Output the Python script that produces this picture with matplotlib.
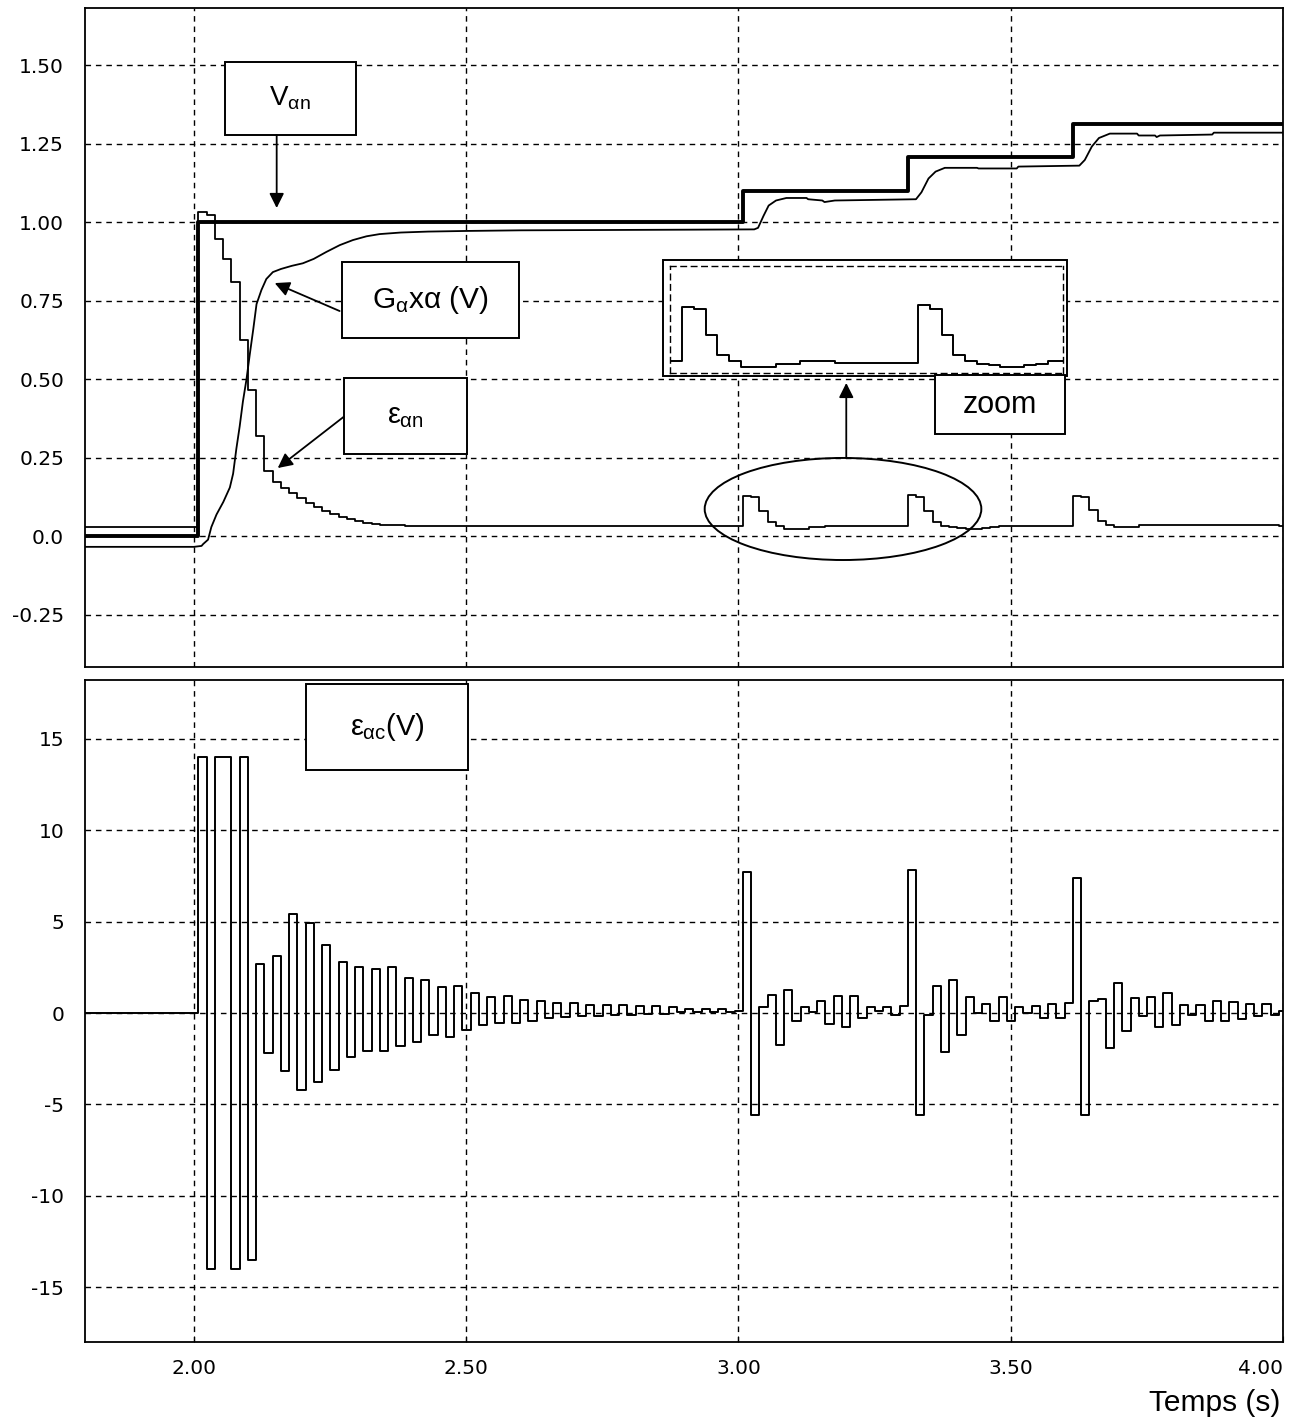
import numpy as np
import matplotlib
matplotlib.use('Agg')
import matplotlib.pyplot as plt
from matplotlib.patches import Rectangle, Ellipse

plt.rcParams['mathtext.fontset'] = 'custom'
plt.rcParams['mathtext.rm'] = 'Liberation Sans'
plt.rcParams['mathtext.it'] = 'Liberation Sans'
plt.rcParams['mathtext.bf'] = 'Liberation Sans:bold'
plt.rcParams['font.family'] = ['Liberation Sans', 'DejaVu Sans']

# ---------------- data ----------------
x_start, x_end = 1.8, 4.0
t_first_sample = 2.008
sample_period = 0.01515

# reference voltage v_an (thick staircase)
v_step_times = [1.8, 2.008, 3.008, 3.311, 3.614]
v_step_levels = [0.0, 1.0, 1.10, 1.21, 1.315]

# G_alpha x alpha (V) (thin continuous curve)
g_times = [1.80, 2.000, 2.014, 2.017, 2.026, 2.032, 2.0415, 2.054, 2.066, 2.072,
           2.078, 2.084, 2.090, 2.0965, 2.1026, 2.109, 2.115, 2.124, 2.133, 2.145,
           2.160, 2.180, 2.200, 2.220, 2.243, 2.268, 2.292, 2.317, 2.341, 2.38,
           2.43, 2.50, 2.60, 2.75, 2.90, 3.029, 3.036, 3.046, 3.0555, 3.069,
           3.088, 3.125, 3.128, 3.154, 3.158, 3.177, 3.326, 3.336, 3.349, 3.362,
           3.379, 3.438, 3.441, 3.511, 3.514, 3.626, 3.636, 3.649, 3.662, 3.682,
           3.732, 3.735, 3.765, 3.768, 3.774, 3.870, 3.873, 4.0]
g_values = [-0.033, -0.033, -0.030, -0.024, -0.010, 0.030, 0.070, 0.110, 0.156, 0.200,
            0.280, 0.350, 0.430, 0.500, 0.580, 0.660, 0.740, 0.785, 0.820, 0.842,
            0.852, 0.862, 0.870, 0.884, 0.906, 0.928, 0.944, 0.956, 0.963, 0.968,
            0.971, 0.973, 0.975, 0.976, 0.977, 0.978, 0.983, 1.021, 1.054, 1.070,
            1.078, 1.078, 1.074, 1.070, 1.065, 1.070, 1.074, 1.096, 1.140, 1.162,
            1.174, 1.174, 1.172, 1.172, 1.178, 1.181, 1.199, 1.242, 1.269, 1.283,
            1.283, 1.277, 1.277, 1.272, 1.277, 1.280, 1.286, 1.286]

# sampled error eps_an (thin staircase, top panel)
eps_an_before = 0.03
eps_an = [1.034, 1.023, 0.946, 0.883, 0.810, 0.625, 0.465, 0.320, 0.210, 0.172,
          0.156, 0.140, 0.124, 0.108, 0.095, 0.082, 0.071, 0.063, 0.055, 0.048,
          0.044, 0.040, 0.037, 0.036, 0.036, 0.035, 0.035, 0.035, 0.035, 0.035,
          0.035, 0.035, 0.035, 0.035, 0.035, 0.035, 0.035, 0.035, 0.035, 0.035,
          0.035, 0.035, 0.035, 0.035, 0.035, 0.035, 0.035, 0.035, 0.035, 0.035,
          0.035, 0.035, 0.035, 0.035, 0.035, 0.035, 0.035, 0.035, 0.035, 0.035,
          0.035, 0.035, 0.035, 0.035, 0.035, 0.035,
          0.130, 0.127, 0.080, 0.045, 0.035, 0.025, 0.025, 0.025, 0.030, 0.030,
          0.035, 0.035, 0.035, 0.032, 0.032, 0.032, 0.032, 0.032, 0.032, 0.032,
          0.133, 0.127, 0.080, 0.045, 0.035, 0.030, 0.028, 0.025, 0.025, 0.028,
          0.030, 0.035, 0.035, 0.035, 0.035, 0.035, 0.035, 0.035, 0.035, 0.035,
          0.130, 0.125, 0.083, 0.048, 0.037, 0.030, 0.030, 0.030, 0.037, 0.037,
          0.037, 0.037, 0.037, 0.037, 0.037, 0.037, 0.037, 0.037, 0.037, 0.037,
          0.037, 0.037, 0.037, 0.037, 0.037, 0.033]

# control error eps_ac (V) (bottom panel)
eps_ac_before = 0.0
eps_ac = [14.0, -14.0, 14.0, 14.0, -14.0, 14.0, -13.5, 2.7, -2.2, 3.1,
          -3.2, 5.4, -4.2, 4.9, -3.8, 3.7, -3.1, 2.8, -2.4, 2.5,
          -2.1, 2.4, -2.1, 2.5, -1.8, 1.9, -1.6, 1.8, -1.2, 1.4,
          -1.3, 1.5, -0.95, 1.1, -0.64, 0.86, -0.55, 0.92, -0.55, 0.73,
          -0.42, 0.68, -0.27, 0.55, -0.24, 0.55, -0.18, 0.46, -0.18, 0.46,
          -0.1, 0.46, -0.1, 0.37, -0.05, 0.37, -0.05, 0.31, 0.05, 0.24,
          0.05, 0.24, 0.05, 0.24, 0.05, 0.1,
          7.7, -5.6, 0.33, 0.96, -1.75, 1.24, -0.46, 0.33, 0.05, 0.68,
          -0.59, 0.92, -0.74, 0.92, -0.28, 0.33, 0.1, 0.33, -0.1, 0.37,
          7.8, -5.6, -0.1, 1.46, -2.15, 1.82, -1.19, 0.86, 0.0, 0.49,
          -0.46, 0.86, -0.46, 0.31, 0.0, 0.4, -0.3, 0.5, -0.3, 0.55,
          7.4, -5.6, 0.64, 0.79, -1.93, 1.64, -0.96, 0.83, -0.15, 0.88,
          -0.74, 1.12, -0.64, 0.46, -0.1, 0.42, -0.42, 0.68, -0.42, 0.59,
          -0.31, 0.5, -0.18, 0.5, -0.13, 0.1]

top_yticks = [-0.25, 0.0, 0.25, 0.50, 0.75, 1.00, 1.25, 1.50]
top_yticklabels = ['-0.25', '0.0', '0.25', '0.50', '0.75', '1.00', '1.25', '1.50']
bot_yticks = [-15, -10, -5, 0, 5, 10, 15]
bot_yticklabels = ['-15', '-10', '-5', '0', '5', '10', '15']
xticks = [2.0, 2.5, 3.0, 3.5, 4.0]
xticklabels = ['2.00', '2.50', '3.00', '3.50', '4.00']

# ---------------- helpers ----------------
def staircase(before, samples):
    times = t_first_sample + sample_period * np.arange(len(samples))
    edges = np.concatenate([[x_start], times, [x_end]])
    vals = np.concatenate([[before], samples, [samples[-1]]])
    return edges, vals

grid_kw = dict(color='black', linestyle=(0, (4, 3.5)), linewidth=1.0)
tick_font = dict(family='DejaVu Sans', size=14.5)

fig = plt.figure(figsize=(12.9, 14.2), dpi=100)
ax1 = fig.add_axes([85 / 1290, 1 - 667 / 1420, 1198 / 1290, 659 / 1420])
ax2 = fig.add_axes([85 / 1290, 1 - 1342 / 1420, 1198 / 1290, 662 / 1420])

for ax in (ax1, ax2):
    ax.set_xlim(x_start, x_end)
    ax.set_xticks(xticks)
    ax.grid(True, **grid_kw)
    ax.set_axisbelow(True)
    for s in ax.spines.values():
        s.set_linewidth(1.3)
    ax.tick_params(axis='y', length=0, pad=15)
    ax.tick_params(axis='x', direction='in', length=4, pad=12)

# ---- top panel ----
ax1.set_ylim(-0.4156, 1.683)
ax1.set_yticks(top_yticks)
ax1.set_yticklabels(top_yticklabels, fontdict=tick_font)
ax1.set_xticklabels([])
ax1.tick_params(axis='x', length=0)

v_t = list(v_step_times) + [x_end]
v_l = list(v_step_levels) + [v_step_levels[-1]]
ax1.step(v_t, v_l, where='post', color='black', lw=2.8, zorder=3)
ax1.plot(g_times, g_values, color='black', lw=1.3, zorder=3)
e_edges, e_vals = staircase(eps_an_before, eps_an)
ax1.step(e_edges, e_vals, where='post', color='black', lw=1.3, zorder=3)

arrow_kw = dict(arrowstyle='-|>', mutation_scale=22, lw=1.3, color='black',
                shrinkA=0, shrinkB=0)

def label_box(ax, x0, x1, y0, y1, text, size):
    ax.add_patch(Rectangle((x0, y0), x1 - x0, y1 - y0, facecolor='white',
                           edgecolor='black', lw=1.4, zorder=6))
    ax.text((x0 + x1) / 2, (y0 + y1) / 2, text, ha='center', va='center',
            fontsize=size, zorder=7)

# V_an label
label_box(ax1, 2.0567, 2.297, 1.278, 1.511, r'$\mathrm{V}_{\alpha\mathrm{n}}$', 20)
ax1.annotate('', xy=(2.152, 1.046), xytext=(2.152, 1.278), arrowprops=arrow_kw, zorder=7)
# G_alpha x alpha label
label_box(ax1, 2.2726, 2.5977, 0.632, 0.874,
          r'$\mathrm{G}_{\alpha}\mathrm{x}\alpha\ \mathrm{(V)}$', 21.5)
ax1.annotate('', xy=(2.1484, 0.807), xytext=(2.2676, 0.718), arrowprops=arrow_kw, zorder=7)
# eps_an label
label_box(ax1, 2.275, 2.5024, 0.263, 0.505, r'$\varepsilon_{\alpha\mathrm{n}}$', 21)
ax1.annotate('', xy=(2.1539, 0.218), xytext=(2.275, 0.381), arrowprops=arrow_kw, zorder=7)

# zoom ellipse + arrow + zoom label + inset box
ax1.add_patch(Ellipse((3.192, 0.0876), 0.508, 0.325, fill=False, lw=1.4,
                      edgecolor='black', zorder=5))
ax1.annotate('', xy=(3.198, 0.489), xytext=(3.198, 0.25), arrowprops=arrow_kw, zorder=7)
ax1.add_patch(Rectangle((2.8618, 0.5111), 3.6027 - 2.8618, 0.8806 - 0.5111,
                        facecolor='white', edgecolor='black', lw=1.4, zorder=6))
label_box(ax1, 3.3606, 3.599, 0.3264, 0.514, 'zoom', 22)

ax_in = fig.add_axes([670 / 1290, 1 - 373 / 1420, 393 / 1290, 107 / 1420])
ax_in.patch.set_alpha(0)
ax_in.step(e_edges, e_vals, where='post', color='black', lw=1.4)
ax_in.set_xlim(2.9926, 3.4972)
ax_in.set_ylim(0.014, 0.202)
ax_in.set_xticks([])
ax_in.set_yticks([])
for s in ax_in.spines.values():
    s.set_linestyle((0, (4, 3.5)))
    s.set_linewidth(1.0)

# ---- bottom panel ----
ax2.set_ylim(-18.0, 18.22)
ax2.set_yticks(bot_yticks)
ax2.set_yticklabels(bot_yticklabels, fontdict=tick_font)
ax2.set_xticklabels(xticklabels, fontdict=tick_font)
ax2.get_xticklabels()[-1].set_horizontalalignment('right')
c_edges, c_vals = staircase(eps_ac_before, eps_ac)
ax2.step(c_edges, c_vals, where='post', color='black', lw=1.4, zorder=3)
label_box(ax2, 2.2053, 2.5042, 13.29, 18.0,
          r'$\varepsilon_{\alpha\mathrm{c}}\mathrm{(V)}$', 21)

fig.text(1280 / 1290, 1 - 1403 / 1420, 'Temps (s)', ha='right', va='center',
         fontsize=21.5)

fig.savefig('out.png', dpi=100, facecolor='white')
